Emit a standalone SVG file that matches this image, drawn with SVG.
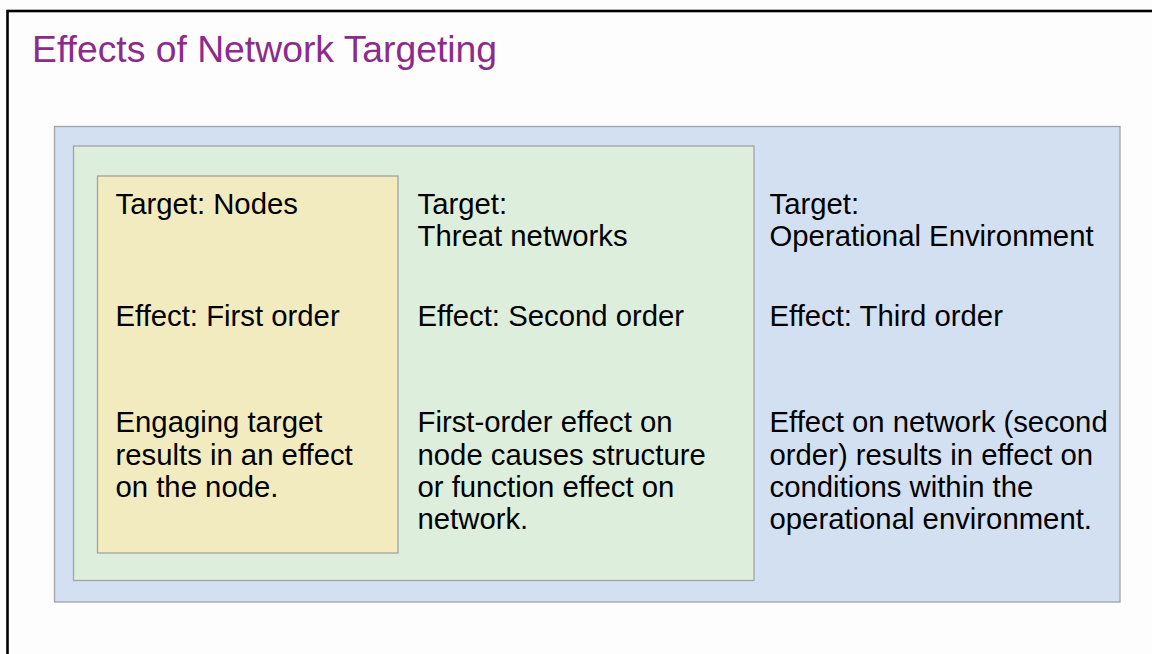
<svg xmlns="http://www.w3.org/2000/svg" width="1152" height="654" viewBox="0 0 1152 654">
  <style>
    .frame { fill: none; stroke: #000000; stroke-width: 2.6; }
    .box { stroke: #A3A3A3; stroke-width: 1.3; }
    .env { fill: #D3E0F2; }
    .net { fill: #DEEEDC; }
    .node { fill: #F2EBBF; }
    .title { font-family: "Liberation Sans", Arial, sans-serif; font-size: 37.3px; fill: #8C2B8C; }
    .label { font-family: "Liberation Sans", Arial, sans-serif; font-size: 29.3px; fill: #000000; }
  </style>
  <rect x="0" y="0" width="1152" height="654" fill="#FDFDFD"/>
  <rect class="frame" x="7.5" y="11" width="1170" height="700"/>
  <text class="title" x="32" y="62.3">Effects of Network Targeting</text>

  <!-- third order: operational environment -->
  <g id="operational-environment">
    <rect class="box env" x="54.5" y="126.5" width="1065.5" height="475.5"/>
    <text class="label" x="769.5" y="213.8">Target:</text>
    <text class="label" x="769.5" y="245.8">Operational Environment</text>
    <text class="label" x="769.5" y="325.7">Effect: Third order</text>
    <text class="label" x="769.5" y="432.3">Effect on network (second</text>
    <text class="label" x="769.5" y="464.5">order) results in effect on</text>
    <text class="label" x="769.5" y="496.8">conditions within the</text>
    <text class="label" x="769.5" y="529">operational environment.</text>
  </g>

  <!-- second order: threat networks -->
  <g id="threat-networks">
    <rect class="box net" x="73.5" y="146" width="680.5" height="434.5"/>
    <text class="label" x="417.5" y="213.8">Target:</text>
    <text class="label" x="417.5" y="245.8">Threat networks</text>
    <text class="label" x="417.5" y="325.7">Effect: Second order</text>
    <text class="label" x="417.5" y="432.3">First-order effect on</text>
    <text class="label" x="417.5" y="464.5">node causes structure</text>
    <text class="label" x="417.5" y="496.8">or function effect on</text>
    <text class="label" x="417.5" y="529">network.</text>
  </g>

  <!-- first order: nodes -->
  <g id="nodes">
    <rect class="box node" x="97.5" y="176" width="300.5" height="377"/>
    <text class="label" x="115.5" y="213.8">Target: Nodes</text>
    <text class="label" x="115.5" y="325.7">Effect: First order</text>
    <text class="label" x="115.5" y="432.3">Engaging target</text>
    <text class="label" x="115.5" y="464.5">results in an effect</text>
    <text class="label" x="115.5" y="496.8">on the node.</text>
  </g>

  <g id="connectors"/>
</svg>
